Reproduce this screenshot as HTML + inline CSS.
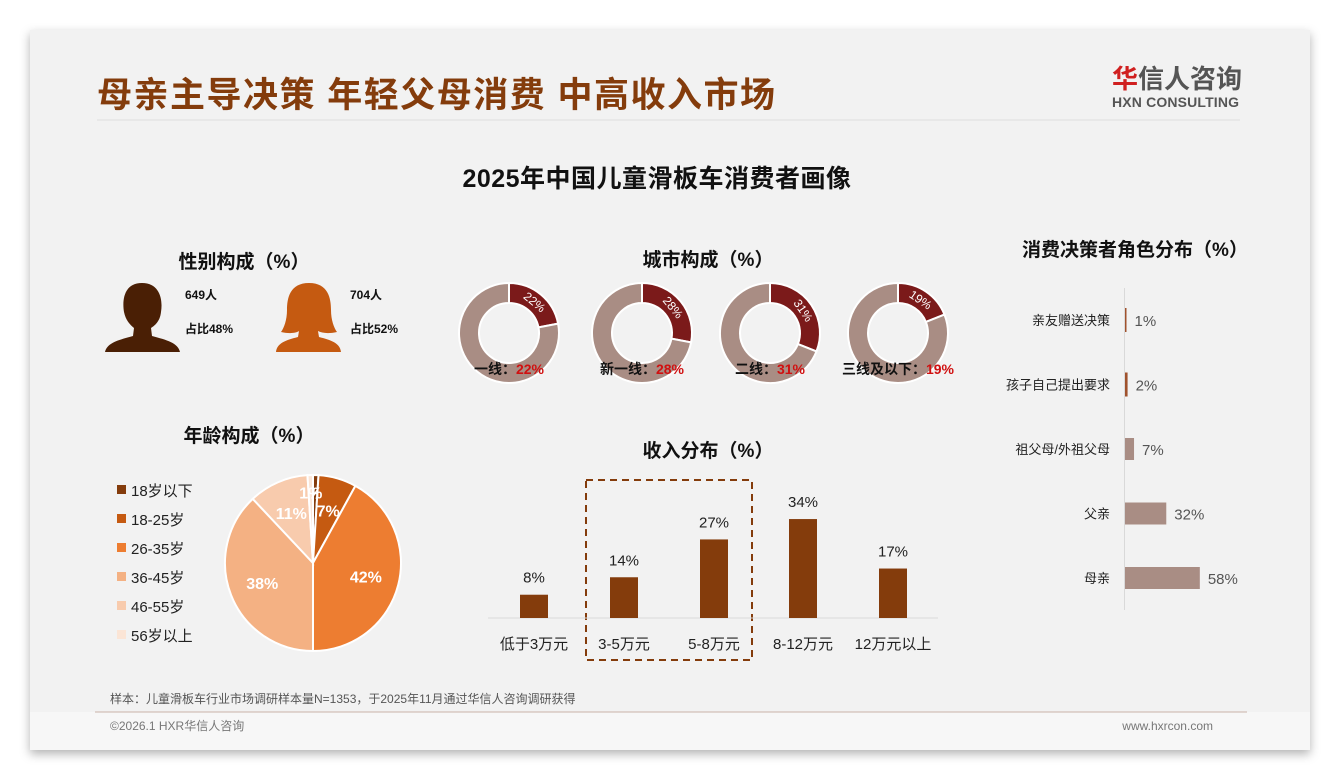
<!DOCTYPE html>
<html><head><meta charset="utf-8"><style>
html,body{margin:0;padding:0;background:#fff;width:1340px;height:780px;overflow:hidden}
svg text{font-family:"Liberation Sans","Noto Sans CJK SC",sans-serif}
</style></head><body>
<svg id="s" width="1340" height="780" viewBox="0 0 1340 780" xmlns="http://www.w3.org/2000/svg">
<defs><filter id="sh" x="-5%" y="-5%" width="110%" height="115%"><feDropShadow dx="0" dy="4" stdDeviation="5" flood-color="#000" flood-opacity="0.3"/></filter></defs>
<rect x="30" y="30" width="1280" height="720" fill="#f2f2f2" filter="url(#sh)"/>
<rect x="30" y="712" width="1280" height="38" fill="#f7f7f7"/>
<text x="97" y="107" font-size="35" font-weight="bold" fill="#843c0c" letter-spacing="1.5">母亲主导决策 年轻父母消费 中高收入市场</text>
<text x="1112" y="88" font-size="26" font-weight="bold" fill="#555"><tspan fill="#d02020">华</tspan>信人咨询</text>
<text x="1112" y="107" font-size="14" font-weight="bold" fill="#555" textLength="127">HXN CONSULTING</text>
<line x1="97" y1="120" x2="1240" y2="120" stroke="#ddd" stroke-width="1"/>
<text x="657" y="187" font-size="25" font-weight="bold" text-anchor="middle" fill="#111" letter-spacing="0.5">2025年中国儿童滑板车消费者画像</text>

<text x="244" y="268" font-size="19" font-weight="bold" text-anchor="middle" fill="#111">性别构成（%）</text>
<path d="M142 283 C124 283 122 300 124 312 C126 322 132 326 134 328 L133 336 C118 340 107 343 105 352 L180 352 C178 343 167 340 152 336 L151 328 C154 326 160 322 161 312 C163 300 160 283 142 283Z" fill="#4a1f05"/>
<path d="M309 283 C290 283 287 298 287 310 C287 320 284 328 281 332 C290 334 296 333 299 331 L298 337 C286 340 277 343 276 352 L341 352 C340 343 331 340 319 337 L318 331 C322 333 328 334 337 332 C334 328 331 320 331 310 C331 298 328 283 309 283Z" fill="#c55a11"/>
<text x="185" y="299" font-size="12" font-weight="bold" fill="#111">649人</text>
<text x="185" y="333" font-size="12" font-weight="bold" fill="#111">占比48%</text>
<text x="350" y="299" font-size="12" font-weight="bold" fill="#111">704人</text>
<text x="350" y="333" font-size="12" font-weight="bold" fill="#111">占比52%</text>

<text x="249" y="442" font-size="19" font-weight="bold" text-anchor="middle" fill="#111">年龄构成（%）</text>
<g id="ageLegend"></g><g id="pie"></g>

<text x="708" y="266" font-size="19" font-weight="bold" text-anchor="middle" fill="#111">城市构成（%）</text>
<g id="donuts"></g>

<text x="708" y="457" font-size="19" font-weight="bold" text-anchor="middle" fill="#111">收入分布（%）</text>
<rect x="586" y="480" width="166" height="180" fill="none" stroke="#843c0c" stroke-width="2" stroke-dasharray="7,5"/>
<line x1="488" y1="618" x2="938" y2="618" stroke="#d9d9d9"/>
<g id="income"></g>

<text x="1135" y="256" font-size="19" font-weight="bold" text-anchor="middle" fill="#111">消费决策者角色分布（%）</text>
<line x1="1124.5" y1="288" x2="1124.5" y2="610" stroke="#d9d9d9"/>
<g id="roles"></g>

<text x="110" y="703" font-size="12" fill="#555">样本：儿童滑板车行业市场调研样本量N=1353，于2025年11月通过华信人咨询调研获得</text>
<line x1="95" y1="712" x2="1247" y2="712" stroke="#c9b3a8"/>
<text x="110" y="730" font-size="12" fill="#777">©2026.1 HXR华信人咨询</text>
<text x="1213" y="730" font-size="12" fill="#777" text-anchor="end">www.hxrcon.com</text>
</svg>
<script>
const NS="http://www.w3.org/2000/svg";
const ageCats=["18岁以下","18-25岁","26-35岁","36-45岁","46-55岁","56岁以上"];
const ageVals=[1,7,42,38,11,1];
const ageLabels=["1%","7%","42%","38%","11%","1%"];
const cityCats=["一线","新一线","二线","三线及以下"];
const cityVals=[22,28,31,19];
const incomeCats=["低于3万元","3-5万元","5-8万元","8-12万元","12万元以上"];
const incomeVals=[8,14,27,34,17];
const roleCats=["亲友赠送决策","孩子自己提出要求","祖父母/外祖父母","父亲","母亲"];
const roleVals=[1,2,7,32,58];

function mk(tag,attrs,parent,txt){const e=document.createElementNS(NS,tag);for(const k in attrs)e.setAttribute(k,attrs[k]);if(txt!==undefined)e.textContent=txt;parent.appendChild(e);return e;}
function pt(cx,cy,r,a){return [cx+r*Math.sin(a),cy-r*Math.cos(a)];}

const ageColors=["#843c0c","#c55a11","#ed7d31","#f4b183","#f8cbad","#fbe5d6"];
const pie=document.getElementById("pie"),leg=document.getElementById("ageLegend");
const pcx=313,pcy=563,pr=88;const tot=ageVals.reduce((a,b)=>a+b,0);let a0=0;
ageVals.forEach((v,i)=>{const a1=a0+v/tot*2*Math.PI;const p0=pt(pcx,pcy,pr,a0),p1=pt(pcx,pcy,pr,a1);
const s=mk("path",{d:`M${pcx} ${pcy}L${p0[0]} ${p0[1]}A${pr} ${pr} 0 ${a1-a0>Math.PI?1:0} 1 ${p1[0]} ${p1[1]}Z`,fill:ageColors[i],stroke:"#fff","stroke-width":2},pie);


const m=(a0+a1)/2,lp=pt(pcx,pcy,v<5?pr*0.8:pr*0.62,m);
const t=mk("text",{x:lp[0],y:lp[1]+6,"font-size":16,"font-weight":"bold",fill:"#fff","text-anchor":"middle"},pie,ageLabels[i]);


const r=mk("rect",{x:117,y:485+i*29,width:9,height:9,fill:ageColors[i]},leg);


const lt=mk("text",{x:131,y:496+i*29,"font-size":15,fill:"#222"},leg,ageCats[i]);


a0=a1;});

const dn=document.getElementById("donuts");const dx=[509,642,770,898];
cityVals.forEach((v,i)=>{const cx=dx[i],cy=333,R=50,ri=30;
function seg(b0,b1,col){const o0=pt(cx,cy,R,b0),o1=pt(cx,cy,R,b1),n1=pt(cx,cy,ri,b1),n0=pt(cx,cy,ri,b0);const lg=b1-b0>Math.PI?1:0;
return mk("path",{d:`M${o0[0]} ${o0[1]}A${R} ${R} 0 ${lg} 1 ${o1[0]} ${o1[1]}L${n1[0]} ${n1[1]}A${ri} ${ri} 0 ${lg} 0 ${n0[0]} ${n0[1]}Z`,fill:col,stroke:"#fff","stroke-width":2},dn);}
const b=v/100*2*Math.PI;
const s1=seg(0,b,"#7b1a1a");


const s2=seg(b,2*Math.PI-0.0001,"#a98d84");


const lp=pt(cx,cy,40,b/2);
const t=mk("text",{x:lp[0],y:lp[1]+4,"font-size":12,fill:"#fff","text-anchor":"middle",transform:`rotate(${b/2*180/Math.PI} ${lp[0]} ${lp[1]})`},dn,v+"%");


const bl=mk("text",{x:cx,y:374,"font-size":14,"font-weight":"bold",fill:"#111","text-anchor":"middle"},dn);


mk("tspan",{},bl,cityCats[i]+"：");mk("tspan",{fill:"#d01010"},bl,v+"%");
});

const inc=document.getElementById("income");const ix=[534,624,714,803,893];const base=618,ps=2.91;
function yI(v){return base-v*ps;}
incomeVals.forEach((v,i)=>{const r=mk("rect",{x:ix[i]-14,y:yI(v),width:28,height:base-yI(v),fill:"#843c0c"},inc);


const t=mk("text",{x:ix[i],y:yI(v)-12,"font-size":15,fill:"#222","text-anchor":"middle"},inc,v+"%");


const c=mk("text",{x:ix[i],y:649,"font-size":15,fill:"#222","text-anchor":"middle"},inc,incomeCats[i]);

});

const ro=document.getElementById("roles");const rx0=1125,rs=1.29;
function xR(v){return rx0+v*rs;}
roleVals.forEach((v,i)=>{const cy=320+i*64.5;const w=Math.max(xR(v)-rx0,1.5);
const r=mk("rect",{x:rx0,y:cy-11,width:w,height:22,fill:v<5?"#a0522d":"#a98d84"},ro);
if(v<5){r.setAttribute("height",24);r.setAttribute("y",cy-12);}


const t=mk("text",{x:rx0+w+8,y:cy+6,"font-size":15,fill:"#555"},ro,v+"%");


const c=mk("text",{x:1110,y:cy+5,"font-size":13,fill:"#222","text-anchor":"end"},ro,roleCats[i]);

});
</script>
</body></html>
